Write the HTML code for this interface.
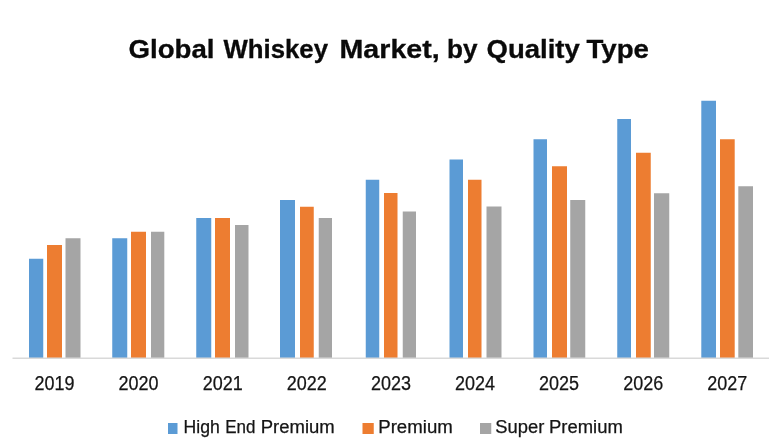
<!DOCTYPE html>
<html><head><meta charset="utf-8"><title>Global Whiskey Market, by Quality Type</title>
<style>
html,body{margin:0;padding:0;background:#fff;}
body{width:780px;height:440px;overflow:hidden;}
svg{display:block;}
text{font-family:"Liberation Sans",sans-serif;}
.t{font-weight:bold;font-size:25.5px;fill:#0a0a0a;stroke:#0a0a0a;stroke-width:0.3px;}
.y{font-size:19.5px;fill:#151515;stroke:#151515;stroke-width:0.25px;}
.l{font-size:17.6px;fill:#151515;stroke:#151515;stroke-width:0.25px;}
</style></head><body>
<svg width="780" height="440" viewBox="0 0 780 440">
<rect width="780" height="440" fill="#fff"/>
<text class="t" x="128.50" y="58" textLength="86.00" lengthAdjust="spacingAndGlyphs">Global</text>
<text class="t" x="223.50" y="58" textLength="104.50" lengthAdjust="spacingAndGlyphs">Whiskey</text>
<text class="t" x="339.50" y="58" textLength="100.30" lengthAdjust="spacingAndGlyphs">Market,</text>
<text class="t" x="447.00" y="58" textLength="30.50" lengthAdjust="spacingAndGlyphs">by</text>
<text class="t" x="486.50" y="58" textLength="93.25" lengthAdjust="spacingAndGlyphs">Quality</text>
<text class="t" x="586.50" y="58" textLength="62.50" lengthAdjust="spacingAndGlyphs">Type</text>
<rect x="29.00" y="258.75" width="14.25" height="99.25" fill="#5B9BD5"/>
<rect x="47.00" y="245.00" width="15.00" height="113.00" fill="#ED7D31"/>
<rect x="65.50" y="238.25" width="15.00" height="119.75" fill="#A5A5A5"/>
<rect x="112.25" y="238.25" width="15.00" height="119.75" fill="#5B9BD5"/>
<rect x="131.00" y="231.75" width="15.00" height="126.25" fill="#ED7D31"/>
<rect x="151.00" y="231.75" width="13.30" height="126.25" fill="#A5A5A5"/>
<rect x="196.25" y="218.00" width="15.00" height="140.00" fill="#5B9BD5"/>
<rect x="215.00" y="218.00" width="15.00" height="140.00" fill="#ED7D31"/>
<rect x="235.00" y="225.00" width="13.50" height="133.00" fill="#A5A5A5"/>
<rect x="280.00" y="200.00" width="15.00" height="158.00" fill="#5B9BD5"/>
<rect x="300.00" y="206.75" width="13.75" height="151.25" fill="#ED7D31"/>
<rect x="318.75" y="218.00" width="13.25" height="140.00" fill="#A5A5A5"/>
<rect x="365.75" y="179.75" width="13.50" height="178.25" fill="#5B9BD5"/>
<rect x="384.00" y="193.00" width="13.50" height="165.00" fill="#ED7D31"/>
<rect x="402.75" y="211.50" width="13.25" height="146.50" fill="#A5A5A5"/>
<rect x="449.50" y="159.50" width="13.50" height="198.50" fill="#5B9BD5"/>
<rect x="468.00" y="179.75" width="13.50" height="178.25" fill="#ED7D31"/>
<rect x="486.50" y="206.50" width="15.00" height="151.50" fill="#A5A5A5"/>
<rect x="533.50" y="139.25" width="13.50" height="218.75" fill="#5B9BD5"/>
<rect x="552.00" y="166.25" width="15.00" height="191.75" fill="#ED7D31"/>
<rect x="570.25" y="200.00" width="15.00" height="158.00" fill="#A5A5A5"/>
<rect x="617.25" y="119.00" width="13.75" height="239.00" fill="#5B9BD5"/>
<rect x="636.00" y="152.75" width="14.75" height="205.25" fill="#ED7D31"/>
<rect x="654.00" y="193.25" width="15.25" height="164.75" fill="#A5A5A5"/>
<rect x="701.30" y="100.75" width="14.70" height="257.25" fill="#5B9BD5"/>
<rect x="720.00" y="139.25" width="14.70" height="218.75" fill="#ED7D31"/>
<rect x="738.30" y="186.25" width="14.70" height="171.75" fill="#A5A5A5"/>
<rect x="12.5" y="357.5" width="756.5" height="1.5" fill="#d9d9d9"/>
<text class="y" x="34.50" y="390" textLength="40" lengthAdjust="spacingAndGlyphs">2019</text>
<text class="y" x="118.60" y="390" textLength="40" lengthAdjust="spacingAndGlyphs">2020</text>
<text class="y" x="202.70" y="390" textLength="40" lengthAdjust="spacingAndGlyphs">2021</text>
<text class="y" x="286.80" y="390" textLength="40" lengthAdjust="spacingAndGlyphs">2022</text>
<text class="y" x="370.90" y="390" textLength="40" lengthAdjust="spacingAndGlyphs">2023</text>
<text class="y" x="455.00" y="390" textLength="40" lengthAdjust="spacingAndGlyphs">2024</text>
<text class="y" x="539.10" y="390" textLength="40" lengthAdjust="spacingAndGlyphs">2025</text>
<text class="y" x="623.20" y="390" textLength="40" lengthAdjust="spacingAndGlyphs">2026</text>
<text class="y" x="707.30" y="390" textLength="40" lengthAdjust="spacingAndGlyphs">2027</text>
<rect x="168" y="423" width="9.5" height="11" fill="#5B9BD5"/>
<text class="l" x="183.50" y="432.5" textLength="36.25" lengthAdjust="spacingAndGlyphs">High</text>
<text class="l" x="225.25" y="432.5" textLength="30.25" lengthAdjust="spacingAndGlyphs">End</text>
<text class="l" x="260.75" y="432.5" textLength="74.00" lengthAdjust="spacingAndGlyphs">Premium</text>
<rect x="362.5" y="423" width="11.25" height="11" fill="#ED7D31"/>
<text class="l" x="378.25" y="432.5" textLength="74.50" lengthAdjust="spacingAndGlyphs">Premium</text>
<rect x="480" y="423" width="11.25" height="11" fill="#A5A5A5"/>
<text class="l" x="495.25" y="432.5" textLength="49.00" lengthAdjust="spacingAndGlyphs">Super</text>
<text class="l" x="549.00" y="432.5" textLength="73.75" lengthAdjust="spacingAndGlyphs">Premium</text>
</svg></body></html>
